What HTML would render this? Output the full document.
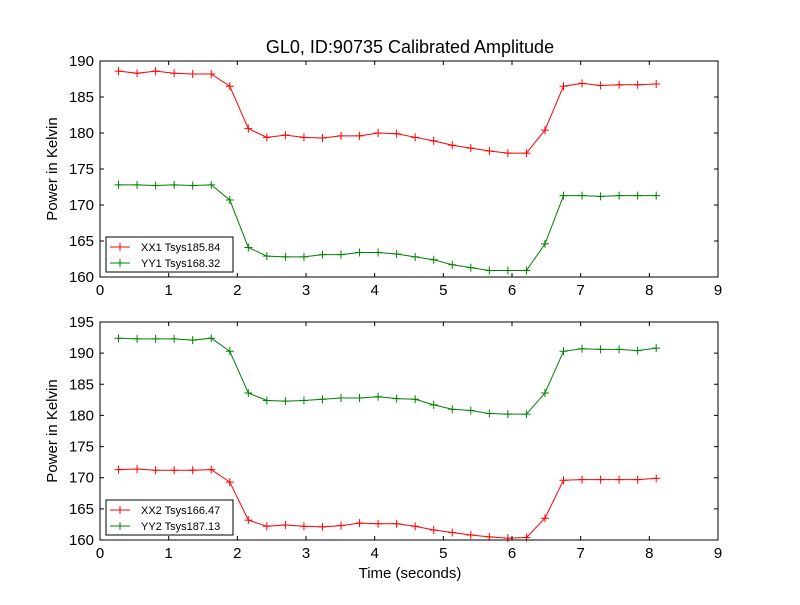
<!DOCTYPE html>
<html><head><meta charset="utf-8"><style>
body{margin:0;background:#fff;}
svg text{font-family:"Liberation Sans","DejaVu Sans",sans-serif;}
</style></head><body>
<svg id="c" width="800" height="600" xmlns="http://www.w3.org/2000/svg">
<rect width="800" height="600" fill="#fff"/>
<text x="410" y="53" font-size="18" text-anchor="middle">GL0, ID:90735 Calibrated Amplitude</text>
<text x="410" y="578" font-size="15" text-anchor="middle">Time (seconds)</text>
</svg>
<script>
const times=[0.27,0.54,0.81,1.08,1.35,1.62,1.89,2.16,2.43,2.70,2.97,3.24,3.51,3.78,4.05,4.32,4.59,4.86,5.13,5.40,5.67,5.94,6.21,6.48,6.75,7.02,7.29,7.56,7.83,8.10];
const xx1=[188.6,188.3,188.6,188.3,188.2,188.2,186.5,180.6,179.4,179.7,179.4,179.3,179.6,179.6,180.0,179.9,179.4,178.9,178.3,177.9,177.5,177.2,177.2,180.4,186.5,186.9,186.6,186.7,186.7,186.8];
const yy1=[172.8,172.8,172.7,172.8,172.7,172.8,170.7,164.1,162.9,162.8,162.8,163.1,163.1,163.4,163.4,163.2,162.8,162.4,161.7,161.3,160.9,160.9,160.9,164.6,171.3,171.3,171.2,171.3,171.3,171.3];
const xx2=[171.3,171.4,171.2,171.2,171.2,171.3,169.3,163.2,162.2,162.4,162.2,162.1,162.3,162.7,162.6,162.6,162.2,161.6,161.2,160.8,160.5,160.3,160.4,163.5,169.6,169.7,169.7,169.7,169.7,169.9];
const yy2=[192.4,192.3,192.3,192.3,192.1,192.4,190.3,183.6,182.4,182.3,182.4,182.6,182.8,182.8,183.0,182.7,182.6,181.7,181.0,180.8,180.3,180.2,180.2,183.6,190.3,190.7,190.6,190.6,190.4,190.8];
const xTicks=[0,1,2,3,4,5,6,7,8,9];
const yTicksTop=[160,165,170,175,180,185,190];
const yTicksBot=[160,165,170,175,180,185,190,195];
const NS="http://www.w3.org/2000/svg";
const svgRoot=document.getElementById('c');
function el(t,a,p){const e=document.createElementNS(NS,t);for(const k in a)e.setAttribute(k,a[k]);(p||svgRoot).appendChild(e);return e;}
function panel(name,pTop,pBottom,ymin,ymax,yTicks,series){
  const L=100,R=718;
  const g=el('g',{});
  
  
  const sx=v=>L+(v-0)/(9-0)*(R-L);
  const sy=v=>pBottom-(v-ymin)/(ymax-ymin)*(pBottom-pTop);
  series.forEach(s=>{
    const pts=s.vals.map((v,i)=>sx(times[i])+','+sy(v)).join(' ');
    const line=el('polyline',{points:pts,fill:'none',stroke:s.color,'stroke-width':1},g);
    
    
    s.vals.forEach((v,i)=>{
      const x=sx(times[i]),y=sy(v);
      const m=el('path',{d:`M${x-4},${y}H${x+4}M${x},${y-4}V${y+4}`,stroke:s.color,'stroke-width':1},g);
      
      
    });
  });
  const fr=el('rect',{x:L,y:pTop,width:R-L,height:pBottom-pTop,fill:'none',stroke:'#000','stroke-width':1},g);
  
  
  xTicks.forEach(t=>{
    const x=sx(t);
    el('path',{d:`M${x},${pBottom}v-4M${x},${pTop}v4`,stroke:'#000'},g);
    const tx=el('text',{x:x,y:pBottom+18,'font-size':15,'text-anchor':'middle'},g);
    tx.textContent=t;
    
    
  });
  yTicks.forEach(t=>{
    const y=sy(t);
    el('path',{d:`M${L},${y}h4M${R},${y}h-4`,stroke:'#000'},g);
    const tx=el('text',{x:L-6,y:y+5,'font-size':15,'text-anchor':'end'},g);
    tx.textContent=t;
    
    
  });
  const yt=el('text',{x:0,y:0,'font-size':15,'text-anchor':'middle',transform:`translate(57,${(pTop+pBottom)/2}) rotate(-90)`},g);
  yt.textContent='Power in Kelvin';
  
  
  const lg=el('g',{},g);
  
  
  el('rect',{x:106,y:pBottom-40,width:127,height:35,fill:'#fff',stroke:'#000'},lg);
  series.forEach((s,i)=>{
    const y=pBottom-30+i*16;
    el('path',{d:`M110,${y}h20M120,${y-4}v8`,stroke:s.color},lg);
    const tx=el('text',{x:141,y:y+4,'font-size':11},lg);
    tx.textContent=s.label;
    
    
  });
}
const topSeries=[{id:'xx1',vals:xx1,color:'#ff0000',label:'XX1 Tsys185.84'},{id:'yy1',vals:yy1,color:'#008000',label:'YY1 Tsys168.32'}];
const botSeries=[{id:'xx2',vals:xx2,color:'#ff0000',label:'XX2 Tsys166.47'},{id:'yy2',vals:yy2,color:'#008000',label:'YY2 Tsys187.13'}];
panel('top-panel',61,277,160,190,yTicksTop,topSeries);
panel('bottom-panel',322,540,160,195,yTicksBot,botSeries);
</script>
</body></html>
